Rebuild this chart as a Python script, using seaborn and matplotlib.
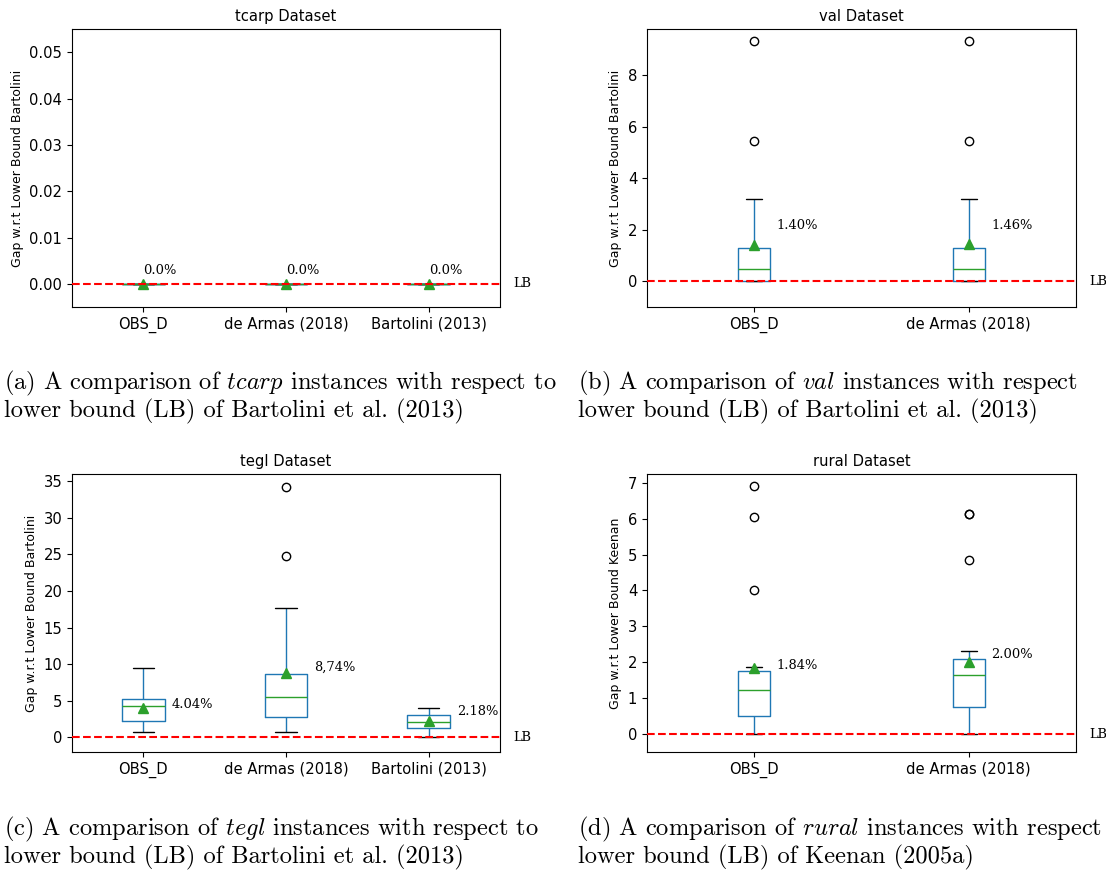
import numpy as np
import pandas as pd
import matplotlib
matplotlib.use("Agg")
import matplotlib.pyplot as plt
import matplotlib.transforms as mtransforms
import seaborn as sns

# ---------------- data ----------------
methods3 = ["OBS_D", "de Armas (2018)", "Bartolini (2013)"]
methods2 = ["OBS_D", "de Armas (2018)"]

# tcarp dataset: all gaps are zero
tcarp_obs = [0.0, 0.0, 0.0, 0.0, 0.0]
tcarp_armas = [0.0, 0.0, 0.0, 0.0, 0.0]
tcarp_bart = [0.0, 0.0, 0.0, 0.0, 0.0]
tcarp_labels = ["0.0%", "0.0%", "0.0%"]

# val dataset
val_obs = [0.0, 0.0, 0.0, 0.0, 0.0, 0.0, 0.05, 0.15, 0.25, 0.35, 0.46,
           0.6, 0.8, 1.0, 1.2, 1.31, 2.4, 2.87, 3.18, 5.45, 9.33]
val_armas = [0.0, 0.0, 0.0, 0.0, 0.0, 0.0, 0.1, 0.2, 0.3, 0.4, 0.46,
             0.7, 0.9, 1.1, 1.25, 1.31, 2.9, 3.08, 3.18, 5.45, 9.33]
val_labels = ["1.40%", "1.46%"]

# tegl dataset
tegl_obs = [0.68, 1.0, 1.4, 1.7, 2.0, 2.18, 2.6, 3.0, 3.5, 4.0, 4.32,
            4.5, 4.7, 4.9, 5.1, 5.28, 5.5, 5.8, 6.2, 7.01, 9.47]
tegl_armas = [0.68, 1.5, 2.0, 2.4, 2.7, 2.72, 3.6, 4.3, 4.9, 5.4, 5.55,
              6.6, 7.3, 8.0, 8.6, 8.72, 15.2, 16.64, 17.66, 24.8, 34.27]
tegl_bart = [0.0, 0.4, 0.8, 1.0, 1.2, 1.32, 1.5, 1.7, 1.9, 2.0, 2.14,
             2.3, 2.5, 2.7, 2.9, 3.0, 3.2, 3.5, 3.8, 3.92, 4.0]
tegl_labels = ["4.04%", "8,74%", "2.18%"]

# rural dataset
rural_obs = [0.0, 0.2, 0.35, 0.45, 0.5, 0.8, 1.0, 1.15, 1.23,
             1.6, 1.7, 1.72, 1.75, 1.86, 4.01, 6.06, 6.90]
rural_armas = [0.0, 0.3, 0.5, 0.65, 0.75, 0.9, 1.1, 1.3, 1.64,
               1.7, 1.8, 1.87, 2.08, 2.30, 4.85, 6.12, 6.14]
rural_labels = ["1.84%", "2.00%"]

titles = ["tcarp Dataset", "val Dataset", "tegl Dataset", "rural Dataset"]
ylabels = ["Gap w.r.t Lower Bound Bartolini", "Gap w.r.t Lower Bound Bartolini",
           "Gap w.r.t Lower Bound Bartolini", "Gap w.r.t Lower Bound Keenan"]
captions = [
    ("(a) A comparison of $\\mathit{tcarp}$ instances with respect to",
     "lower bound (LB) of Bartolini et al. (2013)"),
    ("(b) A comparison of $\\mathit{val}$ instances with respect",
     "lower bound (LB) of Bartolini et al. (2013)"),
    ("(c) A comparison of $\\mathit{tegl}$ instances with respect to",
     "lower bound (LB) of Bartolini et al. (2013)"),
    ("(d) A comparison of $\\mathit{rural}$ instances with respect",
     "lower bound (LB) of Keenan (2005a)"),
]

# ---------------- style ----------------
sns.set_theme(style="ticks")
plt.rcParams["font.family"] = ["DejaVu Sans"]
plt.rcParams["mathtext.fontset"] = "cm"
plt.rcParams["axes.edgecolor"] = "black"
plt.rcParams["xtick.color"] = "black"
plt.rcParams["ytick.color"] = "black"
plt.rcParams["text.color"] = "black"
plt.rcParams["axes.labelcolor"] = "black"

BLUE = "#1f77b4"
GREEN = "#2ca02c"

W, H = 1106, 873
fig = plt.figure(figsize=(W / 100, H / 100), dpi=100)


def px_axes(left, top, right, bottom):
    return fig.add_axes([left / W, 1 - bottom / H, (right - left) / W, (bottom - top) / H])


def panel(ax, cats, groups, labels, title, ylabel, ylim, label_dx, label_ys):
    rows = []
    for c, g in zip(cats, groups):
        for v in g:
            rows.append((c, v))
    df = pd.DataFrame(rows, columns=["method", "gap"])
    width = 0.15 if len(cats) == 2 else 0.3
    sns.boxplot(data=df, x="method", y="gap", order=cats, ax=ax, width=width,
                fill=False, color=BLUE, linewidth=1.0, showmeans=True, whis=1.5,
                boxprops=dict(color=BLUE),
                whiskerprops=dict(color=BLUE),
                capprops=dict(color="black"),
                medianprops=dict(color=GREEN),
                meanprops=dict(marker="^", markerfacecolor=GREEN,
                               markeredgecolor=GREEN, markersize=7),
                flierprops=dict(marker="o", markerfacecolor="none",
                                markeredgecolor="black", markersize=6,
                                markeredgewidth=1.0))
    ax.axhline(0, color="red", linestyle="--", linewidth=1.5, zorder=3)
    ax.set_ylim(*ylim)
    ax.set_xlim(-0.5, len(cats) - 0.5)
    ax.set_title(title, fontsize=10.6)
    ax.set_ylabel(ylabel, fontsize=9.0)
    ax.set_xlabel("")
    ax.tick_params(labelsize=10.6, length=3.5, width=0.8)
    for s in ax.spines.values():
        s.set_visible(True)
        s.set_linewidth(0.8)
    for i, (lab, ly) in enumerate(zip(labels, label_ys)):
        ax.text(i + label_dx, ly, lab, fontsize=9.4, family="DejaVu Serif",
                ha="left", va="center")
    trans = mtransforms.blended_transform_factory(ax.transAxes, ax.transData)
    ax.text(1.03, 0, "LB", transform=trans, fontsize=9.4, family="DejaVu Serif",
            ha="left", va="center")


ax_a = px_axes(72, 29, 500, 307)
ax_b = px_axes(647, 29, 1076, 307)
ax_c = px_axes(72, 474, 500, 752)
ax_d = px_axes(647, 474, 1076, 752)

panel(ax_a, methods3, [tcarp_obs, tcarp_armas, tcarp_bart], tcarp_labels,
      titles[0], ylabels[0], (-0.005, 0.055), 0.0, [0.0029, 0.0029, 0.0029])
panel(ax_b, methods2, [val_obs, val_armas], val_labels,
      titles[1], ylabels[1], (-1.0, 9.8), 0.104, [2.16, 2.16])
panel(ax_c, methods3, [tegl_obs, tegl_armas, tegl_bart], tegl_labels,
      titles[2], ylabels[2], (-2.0, 35.98), 0.2, [4.5, 9.56, 3.55])
panel(ax_d, methods2, [rural_obs, rural_armas], rural_labels,
      titles[3], ylabels[3], (-0.5, 7.245), 0.104, [1.91, 2.21])

cap_pos = [(4, 389), (578, 389), (4, 835), (578, 835)]
for (l1, l2), (x, y) in zip(captions, cap_pos):
    fig.text(x / W, 1 - y / H, l1, family="cmr10", fontsize=17.6, va="baseline", ha="left")
    fig.text(x / W, 1 - (y + 28.5) / H, l2, family="cmr10", fontsize=17.6, va="baseline", ha="left")

fig.savefig("out.png", dpi=100)
